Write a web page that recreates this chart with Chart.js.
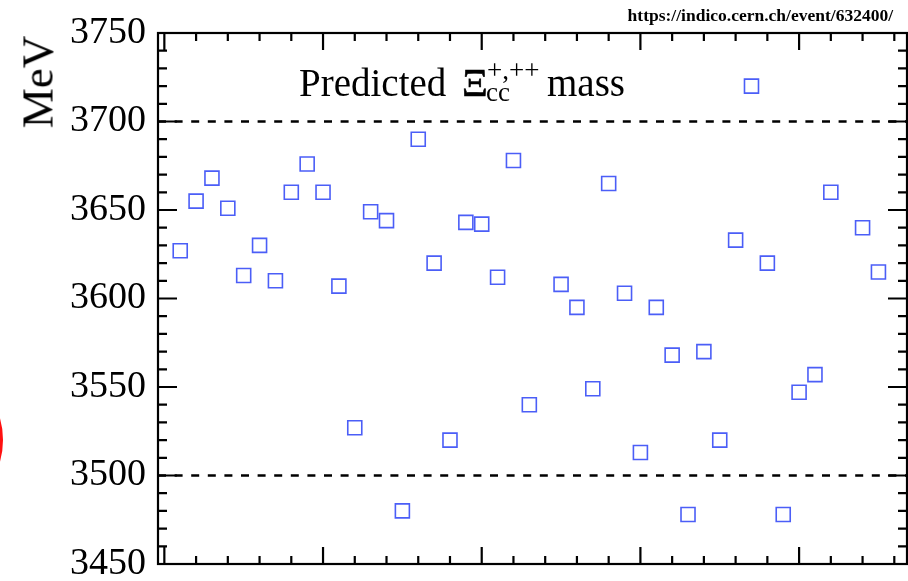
<!DOCTYPE html>
<html>
<head>
<meta charset="utf-8">
<script src="https://cdn.jsdelivr.net/npm/chart.js@4"></script>
<style>
  body { margin: 0; background: #fff; }
  #wrap { position: relative; width: 908px; height: 581px; overflow: hidden; }
  canvas { position: absolute; left: 0; top: 0; }
  .txt { position: absolute; font-family: 'Liberation Serif', 'DejaVu Serif', serif; line-height: 1; white-space: nowrap; color: #000; }
  #ring { position: absolute; left: -147px; top: 365px; width: 150px; height: 150px; box-sizing: border-box;
          border: 3px solid #ff1010; border-radius: 50%; }
</style>
</head>
<body>
<div id="wrap">
  <canvas id="chart" width="908" height="581"></canvas>
  <div id="ring"></div>
  <div class="txt" style="right:15px; top:7px; font-size:17.5px; font-weight:bold;">https://indico.cern.ch/event/632400/</div>
  <div class="txt" style="left:37.5px; top:81.5px; font-size:45px; transform: translate(-50%, -50%) rotate(-90deg);">MeV</div>
  <div class="txt" style="left:299px; top:63px; font-size:39px;">Predicted</div>
  <div class="txt" style="left:462px; top:63px; font-size:40px; -webkit-text-stroke: 0.6px #000;">&Xi;</div>
  <div class="txt" style="left:487px; top:57px; font-size:27px;">+,++</div>
  <div class="txt" style="left:486px; top:79px; font-size:27px;">cc</div>
  <div class="txt" style="left:547px; top:63px; font-size:39px;">mass</div>
</div>
<script>
// model index on the x axis (24 and 43 have no entry)
const positions = [1, 2, 3, 4, 5, 6, 7, 8, 9, 10, 11, 12, 13, 14, 15, 16, 17, 18, 19, 20, 21, 22, 23,
                   25, 26, 27, 28, 29, 30, 31, 32, 33, 34, 35, 36, 37, 38, 39, 40, 41, 42, 44, 45];
// predicted Xi_cc mass, MeV
const masses = [3627, 3655, 3668, 3651, 3613, 3630, 3610, 3660, 3676, 3660, 3607, 3527, 3649, 3644, 3480,
                3690, 3620, 3520, 3643, 3642, 3612, 3678, 3540,
                3608, 3595, 3549, 3665, 3603, 3513, 3595, 3568, 3478, 3570, 3520, 3633, 3720, 3620, 3478,
                3547, 3557, 3660, 3640, 3615];
const refLines = [3500, 3700];
const yTicks = [3450, 3500, 3550, 3600, 3650, 3700, 3750];
const xMin = -0.4, xMax = 46.8;

const points = positions.map((x, i) => ({ x: x, y: masses[i] }));

const refSets = refLines.map(v => ({
    type: 'line',
    data: [{ x: xMin, y: v }, { x: xMax, y: v }],
    borderColor: '#000',
    borderWidth: 2.4,
    borderDash: [8, 8.6],
    pointRadius: 0,
    fill: false
}));

// box with inward ticks on all four sides
const frame = {
    id: 'frame',
    afterDatasetsDraw(chart) {
        const ctx = chart.ctx;
        const a = chart.chartArea;
        const xs = chart.scales.x, ys = chart.scales.y;
        ctx.save();
        ctx.strokeStyle = '#000';
        ctx.lineWidth = 2.2;
        ctx.strokeRect(a.left, a.top, a.right - a.left, a.bottom - a.top);
        ctx.beginPath();
        for (let v = 3450; v <= 3750; v += 10) {
            const y = ys.getPixelForValue(v);
            const len = v % 50 === 0 ? 19 : 9;
            ctx.moveTo(a.left, y); ctx.lineTo(a.left + len, y);
            ctx.moveTo(a.right, y); ctx.lineTo(a.right - len, y);
        }
        for (let v = 0; v <= 46; v += 2) {
            const x = xs.getPixelForValue(v);
            const len = v % 10 === 0 ? 17 : 8;
            ctx.moveTo(x, a.bottom); ctx.lineTo(x, a.bottom - len);
            ctx.moveTo(x, a.top); ctx.lineTo(x, a.top + len);
        }
        ctx.stroke();
        ctx.restore();
    }
};

new Chart(document.getElementById('chart'), {
    type: 'scatter',
    data: {
        datasets: [{
            data: points,
            pointStyle: 'rect',
            pointRadius: 9.9,
            pointBorderWidth: 1.6,
            pointBorderColor: '#4b5ef7',
            pointBackgroundColor: 'rgba(0,0,0,0)',
            showLine: false
        }].concat(refSets)
    },
    options: {
        responsive: false,
        animation: false,
        devicePixelRatio: 1,
        layout: { autoPadding: false, padding: { top: 33, right: 1, bottom: 17, left: 0 } },
        plugins: { legend: { display: false }, tooltip: { enabled: false } },
        scales: {
            x: { type: 'linear', min: xMin, max: xMax, display: false },
            y: {
                type: 'linear',
                min: 3450,
                max: 3750,
                afterBuildTicks: s => { s.ticks = yTicks.map(v => ({ value: v })); },
                afterFit: s => { s.width = 158; s.paddingTop = 0; s.paddingBottom = 0; },
                ticks: {
                    autoSkip: false,
                    padding: 12,
                    color: '#000',
                    font: { family: "'Liberation Serif'", size: 38 },
                    callback: v => String(v)
                },
                grid: { display: false, drawTicks: false },
                border: { display: false }
            }
        }
    },
    plugins: [frame]
});
</script>
</body>
</html>
